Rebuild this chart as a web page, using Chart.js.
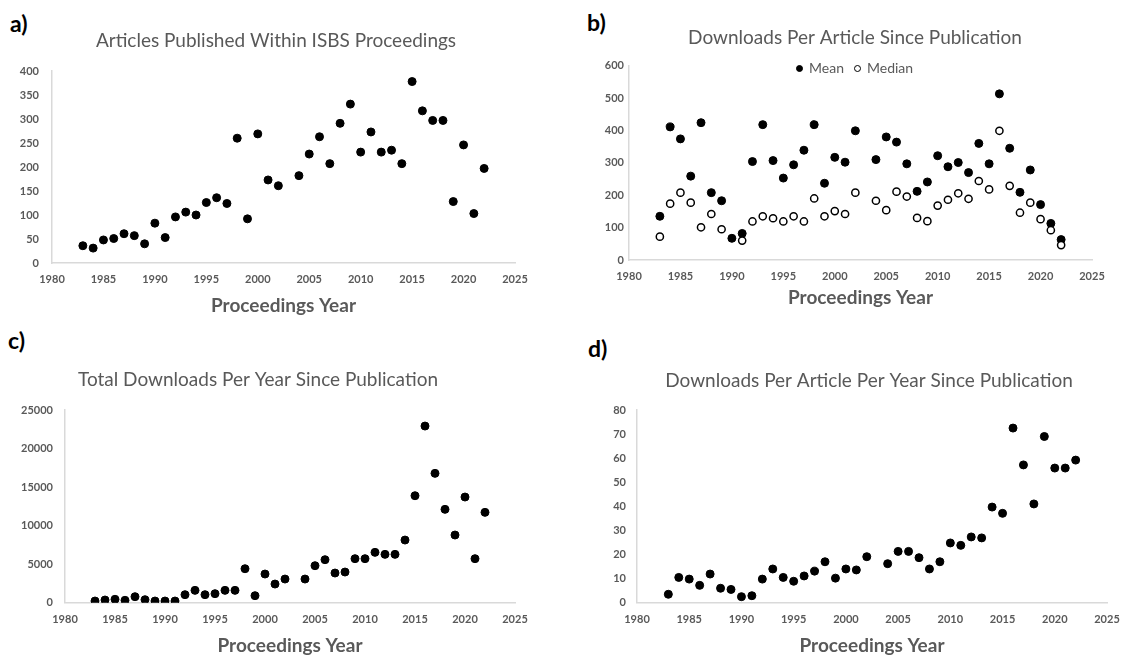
<!DOCTYPE html>
<html>
<head>
<meta charset="utf-8">
<title>ISBS Proceedings</title>
<script src="https://cdn.jsdelivr.net/npm/chart.js@4.4.0/dist/chart.umd.min.js"></script>
<style>
  body { margin: 0; background: #fff; font-family: Lato, sans-serif; }
  #page { position: relative; width: 1123px; height: 656px; overflow: hidden; }
  canvas { position: absolute; }
  .tag { position: absolute; font-weight: bold; font-size: 23px; line-height: 23px; color: #000; }
  #legendB { position: absolute; left: 796px; top: 60px; font-size: 14px; line-height: 16px; color: #595959; white-space: nowrap; }
  #legendB .item { display: inline-block; margin-right: 10px; }
  #legendB .mark { display: inline-block; box-sizing: border-box; width: 7px; height: 7px; border-radius: 50%; border: 1.5px solid #000; margin-right: 6px; vertical-align: 1px; }
</style>
</head>
<body>
<div id="page">
  <div class="tag" style="left:10px;top:12px">a)</div>
  <div class="tag" style="left:587px;top:11px">b)</div>
  <div class="tag" style="left:8px;top:329px">c)</div>
  <div class="tag" style="left:588px;top:337px">d)</div>
  <canvas id="chartA"></canvas>
  <canvas id="chartB"></canvas>
  <canvas id="chartC"></canvas>
  <canvas id="chartD"></canvas>
  <div id="legendB"></div>
</div>
<script>
// proceedings years (no 2003 in the data)
var years = [1983, 1984, 1985, 1986, 1987, 1988, 1989, 1990, 1991, 1992,
  1993, 1994, 1995, 1996, 1997, 1998, 1999, 2000, 2001, 2002,
  2004, 2005, 2006, 2007, 2008, 2009, 2010, 2011, 2012, 2013,
  2014, 2015, 2016, 2017, 2018, 2019, 2020, 2021, 2022];

// a) articles published
var articles = [36, 31, 48, 51, 61, 57, 40, 83, 53, 96,
  106, 100, 126, 136, 124, 260, 92, 269, 173, 161,
  182, 227, 263, 207, 291, 331, 231, 273, 231, 235,
  207, 378, 317, 297, 297, 128, 246, 103, 197];

// b) downloads per article
var meanDownloads = [135, 411, 374, 259, 424, 208, 183, 67, 82, 304,
  418, 307, 253, 294, 339, 418, 237, 317, 302, 399,
  310, 380, 364, 297, 212, 241, 322, 288, 301, 270,
  360, 297, 513, 345, 209, 278, 171, 113, 63];
var medianDownloads = [72, 174, 208, 177, 101, 142, 95, null, 60, 119,
  135, 129, 119, 135, 119, 190, 135, 151, 142, 208,
  183, 154, 211, 196, 130, 120, 168, 186, 206, 189,
  244, 218, 399, 229, 146, 177, 126, 92, 46];
var seriesNames = ["Mean", "Median"];

// c) total downloads per year
var totalDownloads = [220, 350, 440, 310, 780, 390, 220, 220, 220, 1040,
  1600, 1040, 1170, 1600, 1600, 4410, 910, 3720, 2420, 3070,
  3070, 4800, 5580, 3850, 3980, 5710, 5710, 6530, 6270, 6270,
  8130, 13880, 22920, 16780, 12110, 8780, 13710, 5710, 11720];

// d) downloads per article per year
var perArticleYear = [3.5, 10.5, 9.8, 7.2, 11.9, 6, 5.5, 2.5, 2.9, 9.8,
  14, 10.5, 8.9, 11.1, 13.1, 17, 10.2, 14, 13.6, 19.1,
  16.2, 21.3, 21.3, 18.7, 14, 17, 24.8, 23.8, 27.3, 26.9,
  39.7, 37.1, 72.5, 57.2, 41, 69, 55.9, 55.9, 59.2];

// axis ranges: [min, max, step]
var xRange = [1980, 2025, 5];
var yRangeA = [0, 400, 50];
var yRangeB = [0, 600, 100];
var yRangeC = [0, 25000, 5000];
var yRangeD = [0, 80, 10];

var titles = [
  "Articles Published Within ISBS Proceedings",
  "Downloads Per Article Since Publication",
  "Total Downloads Per Year Since Publication",
  "Downloads Per Article Per Year Since Publication"
];
var xAxisTitle = "Proceedings Year";

Chart.defaults.font.family = "Lato, 'Open Sans', sans-serif";

var TITLE_SIZE = 19;
var AXIS_TITLE_SIZE = 19;
var MIN_Y_WIDTH = 45;

function points(values) {
  var out = [];
  for (var i = 0; i < years.length; i++) {
    out.push({ x: years[i], y: values[i] });
  }
  return out;
}

function filled(label, values) {
  return { label: label, data: points(values), pointRadius: 4, pointHoverRadius: 4,
    backgroundColor: "#000", borderColor: "#000", borderWidth: 1, order: 2 };
}

function hollow(label, values) {
  return { label: label, data: points(values), pointRadius: 3.6, pointHoverRadius: 3.6,
    backgroundColor: "#fff", borderColor: "#000", borderWidth: 1.5, order: 1 };
}

// p: page position of the canvas and of the plot area, title centre etc.
function makePanel(id, p, datasets, yRange) {
  var canvas = document.getElementById(id);
  var titleLh = TITLE_SIZE * 1.2, axisLh = AXIS_TITLE_SIZE * 1.2;
  var plotL = p.plot[0] - p.left, plotR = p.plot[1] - p.left;
  var plotT = p.plot[2] - p.top, plotB = p.plot[3] - p.top;
  var tcx = p.titleX - p.left;

  // the chart title is centred on the full width, not on the plot,
  // so shift it with the left padding and an empty right-hand axis
  var padL = 2 * tcx - plotR;
  var spacer = 0;
  if (padL > plotL - MIN_Y_WIDTH) {
    padL = plotL - MIN_Y_WIDTH;
    spacer = 2 * tcx - plotR - padL;
  }
  var yWidth = plotL - padL;

  var W = Math.round(plotR + spacer + p.padRight);
  var H = Math.round(p.xTitleY - p.top + axisLh / 2);
  var tTop = p.titleY - p.top - titleLh / 2;
  var tBottom = plotT - tTop - titleLh;
  var xHeight = H - plotB;

  canvas.width = W;
  canvas.height = H;
  canvas.style.left = p.left + "px";
  canvas.style.top = p.top + "px";

  var scales = {
    x: {
      type: "linear",
      min: xRange[0],
      max: xRange[1],
      grid: { color: "transparent", drawTicks: false },
      border: { color: "#d9d9d9", width: 1.5 },
      ticks: {
        stepSize: xRange[2],
        color: "#595959",
        font: { size: 11, weight: "bold" },
        padding: 10,
        maxRotation: 0,
        callback: function (v) { return String(v); },
      },
      title: {
        display: true,
        text: xAxisTitle,
        color: "#595959",
        font: { size: AXIS_TITLE_SIZE, weight: "bold" },
        padding: 0,
      },
      afterFit: function (s) { s.height = xHeight; },
    },
    y: {
      min: yRange[0],
      max: yRange[1],
      grid: { color: "transparent", drawTicks: false },
      border: { color: "#d9d9d9", width: 1.5 },
      ticks: {
        stepSize: yRange[2],
        color: "#595959",
        font: { size: 11, weight: "bold" },
        padding: p.yPad,
        callback: function (v) { return String(v); },
      },
      afterFit: function (s) { s.width = yWidth; },
    },
  };
  if (spacer > 0) {
    scales.spacer = {
      type: "linear",
      position: "right",
      grid: { display: false },
      border: { display: false },
      ticks: { display: false },
      afterFit: function (s) { s.width = spacer; },
    };
  }

  return new Chart(canvas, {
    type: "scatter",
    data: { datasets: datasets },
    options: {
      responsive: false,
      animation: false,
      layout: { padding: { left: padL, right: W - plotR - spacer, top: 0, bottom: 0 } },
      plugins: {
        legend: { display: false },
        tooltip: { enabled: false },
        title: {
          display: true,
          text: p.title,
          color: "#595959",
          font: { size: TITLE_SIZE, weight: "normal" },
          padding: { top: tTop, bottom: tBottom },
        },
      },
      scales: scales,
    },
  });
}

makePanel("chartA",
  { left: 0, top: 0, plot: [52, 515, 71, 263], titleX: 276, titleY: 41, xTitleY: 306,
    padRight: 25, yPad: 13, title: titles[0] },
  [filled("Articles", articles)], yRangeA);

makePanel("chartB",
  { left: 560, top: 0, plot: [629, 1092, 65.7, 260], titleX: 855, titleY: 38, xTitleY: 298,
    padRight: 20, yPad: 5, title: titles[1] },
  [filled(seriesNames[0], meanDownloads), hollow(seriesNames[1], medianDownloads)], yRangeB);

makePanel("chartC",
  { left: 0, top: 318, plot: [65, 515, 410, 602.7], titleX: 258, titleY: 380, xTitleY: 646,
    padRight: 25, yPad: 12, title: titles[2] },
  [filled("Total", totalDownloads)], yRangeC);

makePanel("chartD",
  { left: 560, top: 318, plot: [637, 1107, 410, 602.7], titleX: 869, titleY: 380.5, xTitleY: 646,
    padRight: 14, yPad: 11, title: titles[3] },
  [filled("Per year", perArticleYear)], yRangeD);

// legend for panel b, sits inside the plot area like the original
var legend = document.getElementById("legendB");
for (var i = 0; i < seriesNames.length; i++) {
  var item = document.createElement("span");
  item.className = "item";
  var mark = document.createElement("span");
  mark.className = "mark";
  mark.style.background = i === 0 ? "#000" : "#fff";
  item.appendChild(mark);
  item.appendChild(document.createTextNode(seriesNames[i]));
  legend.appendChild(item);
}
</script>
</body>
</html>
